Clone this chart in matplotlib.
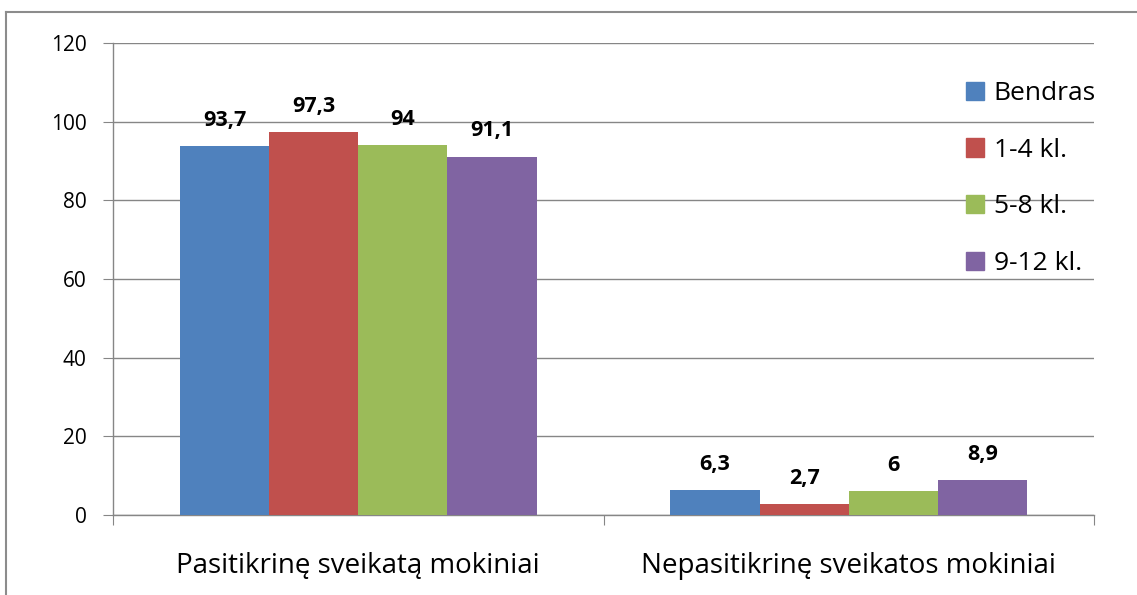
import matplotlib
matplotlib.use("Agg")
import matplotlib.pyplot as plt
from matplotlib.patches import Patch
from matplotlib.lines import Line2D

plt.rcParams['font.family'] = ['Open Sans', 'DejaVu Sans']

# data
categories = ["Pasitikrinę sveikatą mokiniai", "Nepasitikrinę sveikatos mokiniai"]
series = ["Bendras", "1-4 kl.", "5-8 kl.", "9-12 kl."]
values = [
    [93.7, 6.3],   # Bendras
    [97.3, 2.7],   # 1-4 kl.
    [94, 6],       # 5-8 kl.
    [91.1, 8.9],   # 9-12 kl.
]
colors = ["#4F81BD", "#C0504D", "#9BBB59", "#8064A2"]
yticks = [0, 20, 40, 60, 80, 100, 120]

W, H = 1137, 595
fig = plt.figure(figsize=(W / 100, H / 100), dpi=100)
ax = fig.add_axes([113 / W, 1 - 515 / H, (1094 - 113) / W, (515 - 43) / H])

grid_c = "#868686"
fs_tick = 15
fs_big = 20

bw = 1 / 5.5
for j, (name, vals) in enumerate(zip(series, values)):
    xs = [i + (j - 1.5) * bw for i in range(len(categories))]
    bars = ax.bar(xs, vals, width=bw, color=colors[j], label=name, zorder=3)
    for b, v in zip(bars, vals):
        ax.annotate(f"{v:g}".replace(".", ","), (b.get_x() + b.get_width() / 2, v),
                    xytext=(0, 11), textcoords="offset points",
                    ha="center", va="bottom", fontsize=15.5, fontweight="bold")

ax.set_xlim(-0.5, 1.5)
ax.set_ylim(0, 120)
ax.set_yticks(yticks)
ax.set_yticklabels([str(t) for t in yticks], fontsize=fs_tick)
ax.yaxis.grid(True, color=grid_c, lw=1, zorder=0)
ax.tick_params(axis="y", length=7, color=grid_c, pad=12)

# category separators as ticks
ax.set_xticks([-0.5, 0.5, 1.5])
ax.set_xticklabels([])
ax.tick_params(axis="x", length=7, color=grid_c)
for i, c in enumerate(categories):
    ax.text(i, -13.0, c, ha="center", va="center", fontsize=fs_big)

for s in ["top", "right"]:
    ax.spines[s].set_visible(False)
for s in ["left", "bottom"]:
    ax.spines[s].set_color(grid_c)
    ax.spines[s].set_linewidth(1)

handles = [Patch(color=c) for c in colors]
ax.legend(handles, series, loc="upper left", bbox_to_anchor=(966 / W, 1 - 81 / H),
          bbox_transform=fig.transFigure, frameon=False, fontsize=19,
          handlelength=0.7, handleheight=0.7, handletextpad=0.35,
          labelspacing=1.2, borderpad=0, borderaxespad=0)

# outer chart border (left and top visible)
fig.add_artist(Line2D([6 / W, 6 / W], [0, 1 - 12 / H], color="#8c8c8c", lw=1.5))
fig.add_artist(Line2D([6 / W, 1], [1 - 12 / H, 1 - 12 / H], color="#8c8c8c", lw=1.5))

fig.savefig("out.png", dpi=100)
